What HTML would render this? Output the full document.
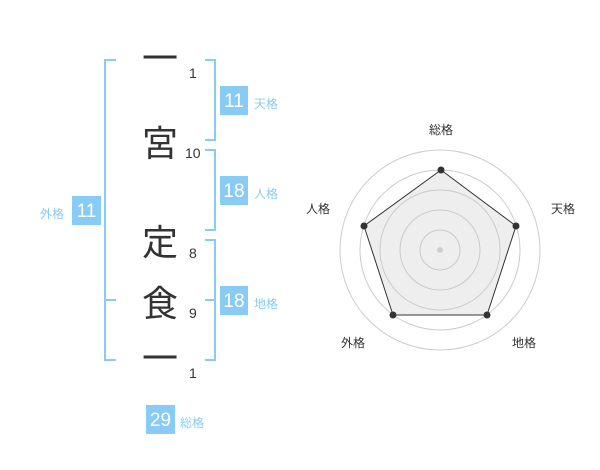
<!DOCTYPE html>
<html><head><meta charset="utf-8"><style>
html,body{margin:0;padding:0;background:#fff;}
svg{display:block;font-family:"Liberation Sans","Noto Sans CJK JP",sans-serif;}
</style></head><body>
<svg width="600" height="470" viewBox="0 0 600 470" xmlns="http://www.w3.org/2000/svg">
<g stroke="#88ccf5" stroke-width="2" fill="none">
<path d="M116 60H105V360H116M105 300H116"/>
<path d="M205 60H215V140H205"/>
<path d="M205 150H215V230H205"/>
<path d="M205 240H215V360H205M205 300H215"/>
</g>
<g fill="#333" font-size="36" text-anchor="middle" font-family="'Noto Sans CJK JP',sans-serif">
<text x="160" y="71">一</text>
<text x="160" y="156">宮</text>
<text x="160" y="255">定</text>
<text x="160" y="316">食</text>
<text x="160" y="371">一</text>
</g>
<g fill="#333" font-size="14">
<text x="189" y="78">1</text>
<text x="185" y="158">10</text>
<text x="189" y="258">8</text>
<text x="189" y="318">9</text>
<text x="189" y="378">1</text>
</g>
<g fill="#88ccf5">
<rect x="220" y="86" width="28" height="29"/>
<rect x="220" y="176" width="28" height="29"/>
<rect x="220" y="286" width="28" height="29"/>
<rect x="72" y="196" width="29" height="29"/>
<rect x="146" y="405" width="29" height="29"/>
</g>
<g fill="#fff" font-size="19" text-anchor="middle">
<text x="234" y="107">11</text>
<text x="234" y="197">18</text>
<text x="234" y="307">18</text>
<text x="86.5" y="217">11</text>
<text x="160.5" y="426">29</text>
</g>
<g fill="#88ccf5" font-size="12">
<text x="254" y="108">天格</text>
<text x="254" y="198">人格</text>
<text x="254" y="308">地格</text>
<text x="40" y="218">外格</text>
<text x="180" y="427">総格</text>
</g>
<g fill="none" stroke="#ccc" stroke-width="1">
<circle cx="440" cy="250" r="20"/><circle cx="440" cy="250" r="40"/>
<circle cx="440" cy="250" r="60"/><circle cx="440" cy="250" r="80"/>
<circle cx="440" cy="250" r="100"/>
</g>
<polygon points="441,170 516,226 487,315 393,315 364,226" fill="rgba(200,200,200,0.3)" stroke="#333" stroke-width="1"/>
<circle cx="440" cy="250" r="3" fill="#ccc"/>
<g fill="#333">
<circle cx="441" cy="170" r="3.5"/><circle cx="516" cy="226" r="3.5"/>
<circle cx="487" cy="315" r="3.5"/><circle cx="393" cy="315" r="3.5"/>
<circle cx="364" cy="226" r="3.5"/>
</g>
<g fill="#333" font-size="12" text-anchor="middle">
<text x="441" y="134">総格</text>
<text x="563" y="213">天格</text>
<text x="524" y="347">地格</text>
<text x="353" y="347">外格</text>
<text x="318" y="213">人格</text>
</g>
</svg>
</body></html>
